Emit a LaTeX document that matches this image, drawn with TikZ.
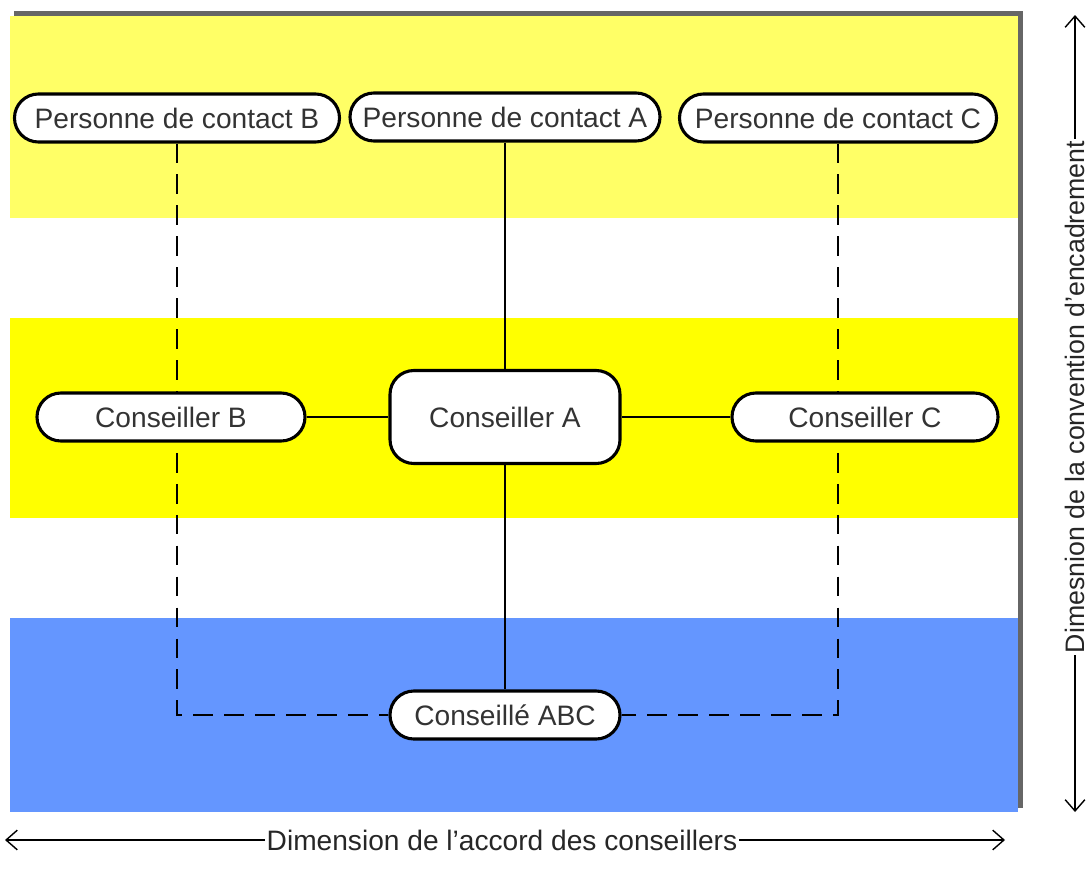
\documentclass[tikz,border=0pt]{standalone}
\usepackage{fontspec}
\setmainfont{Liberation Sans}
\usetikzlibrary{arrows.meta}
\definecolor{paleyellow}{RGB}{255,255,102}
\definecolor{fullyellow}{RGB}{255,255,0}
\definecolor{bandblue}{RGB}{100,150,255}
\pgfdeclarelayer{bands}
\pgfdeclarelayer{links}
\pgfsetlayers{bands,links,main}
\newlength{\pxu}
\setlength{\pxu}{0.025cm}
\tikzset{
  person/.style={draw, line width=2.2pt, fill=white, rounded corners=17pt,
    inner sep=0pt, minimum height=48\pxu, text=black!80,
    font=\fontsize{20}{24}\selectfont},
  solidlink/.style={line width=1.7pt},
  dashedlink/.style={line width=1.7pt, dash pattern=on 14pt off 8pt},
  dimarrow/.style={line width=1pt, {Straight Barb[length=8pt,width=14pt]}-{Straight Barb[length=8pt,width=14pt]}},
  dimlabel/.style={fill=white, inner sep=1pt, text=black!85, font=\fontsize{20}{24}\selectfont}
}
\begin{document}
\begin{tikzpicture}[x=0.025cm, y=-0.025cm]
\useasboundingbox (0,0) rectangle (1089,881);

\begin{pgfonlayer}{bands}
  % shadow and bands
  \fill[black!60] (14,11) rectangle (1023,808);
  \fill[paleyellow] (10,16) rectangle (1018,218);
  \fill[white] (10,218) rectangle (1018,318);
  \fill[fullyellow] (10,318) rectangle (1018,518);
  \fill[white] (10,518) rectangle (1018,618);
  \fill[bandblue] (10,618) rectangle (1018,812);
\end{pgfonlayer}

\node[person, minimum width=325\pxu] (pb) at (177,118) {Personne de contact B};
\node[person, minimum width=310\pxu] (pa) at (505,117) {Personne de contact A};
\node[person, minimum width=317\pxu] (pc) at (838,118) {Personne de contact C};

\node[person, minimum width=268\pxu] (cb) at (171,417) {Conseiller B};
\node[person, minimum width=230\pxu, minimum height=93\pxu] (ca) at (505,417) {Conseiller A};
\node[person, minimum width=266\pxu] (cc) at (865,417) {Conseiller C};

\node[person, minimum width=230\pxu] (abc) at (505,715) {Conseillé ABC};

\begin{pgfonlayer}{links}
  \draw[solidlink] (pa) -- (ca);
  \draw[solidlink] (cb) -- (ca);
  \draw[solidlink] (ca) -- (cc);
  \draw[solidlink] (ca) -- (abc);
  \draw[dashedlink] (pb.south) |- (abc.west);
  \draw[dashedlink] (pc.south) |- (abc.east);
\end{pgfonlayer}

% dimensions
\coordinate (hl) at (5,840);
\coordinate (hr) at (1005,840);
\coordinate (vt) at (1075,15);
\coordinate (vb) at (1075,812);
\draw[dimarrow] (hl) -- (hr);
\node[dimlabel] (hlab) at (502,840) {Dimension de l’accord des conseillers};
\draw[dimarrow] (vb) -- (vt);
\node[dimlabel, rotate=90, font=\fontsize{19}{23}\selectfont] (vlab) at (1075,397) {Dimesnion de la convention d'encadrement};

\end{tikzpicture}
\end{document}
